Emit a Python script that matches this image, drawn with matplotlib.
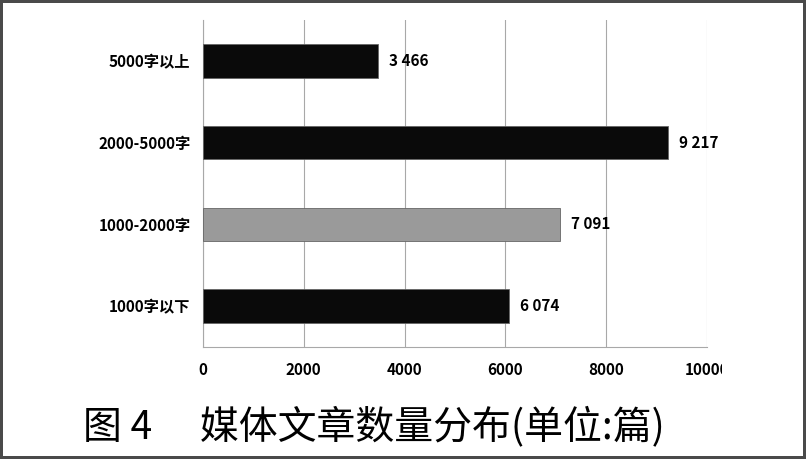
import matplotlib
matplotlib.use("Agg")
import matplotlib.pyplot as plt
from matplotlib.transforms import Bbox

categories = ["1000字以下", "1000-2000字", "2000-5000字", "5000字以上"]
values = [6074, 7091, 9217, 3466]
bar_colors = ["#0a0a0a", "#9a9a9a", "#0a0a0a", "#0a0a0a"]
xticks = [0, 2000, 4000, 6000, 8000, 10000]

plt.rcParams['font.family'] = ['Liberation Sans Narrow', 'Noto Sans CJK SC', 'DejaVu Sans']

fig = plt.figure(figsize=(8.06, 4.59), dpi=100)
fig.patch.set_edgecolor("#4a4a4a")
fig.patch.set_linewidth(3)
ax = fig.add_axes([203/806, 1-347/459, 504/806, 327/459])

ax.barh(range(len(values)), values, height=0.41, color=bar_colors,
        edgecolor="#666666", linewidth=0.6, zorder=3)
for i, v in enumerate(values):
    label = "{:,}".format(v).replace(",", " ")
    ax.text(v + 220, i, label, va="center", ha="left", fontsize=11,
            fontweight="bold", zorder=4)

ax.set_xlim(0, 10000)
ax.set_ylim(-0.5, 3.5)
ax.set_xticks(xticks)
ax.set_xticklabels([str(t) for t in xticks], fontweight="bold", fontsize=11)
ax.set_yticks(range(len(categories)))
ax.set_yticklabels(categories, fontweight="bold", fontsize=11)
ax.tick_params(axis="both", length=0)
ax.tick_params(axis="x", pad=11)
ax.tick_params(axis="y", pad=9)
ax.grid(axis="x", color="#a8a8a8", linewidth=0.8, zorder=0)
for s in ["top", "right"]:
    ax.spines[s].set_visible(False)
ax.spines["left"].set_color("#a8a8a8")
ax.spines["bottom"].set_color("#a8a8a8")

fig.text(83/806, 1-427/459, "图 4　 媒体文章数量分布(单位:篇)", fontsize=28,
         family=['Noto Sans CJK SC', 'DejaVu Sans'], ha="left", va="center")

fig.canvas.draw()
last = ax.xaxis.get_major_ticks()[-1].label1
last.set_clip_box(Bbox.from_extents(0, 0, 722, 459))
last.set_clip_on(True)

fig.savefig("out.png", dpi=100)
